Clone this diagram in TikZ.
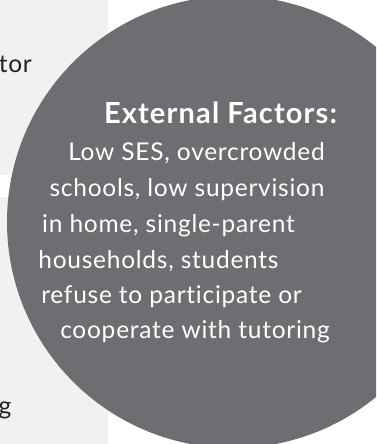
\documentclass[tikz,border=0pt]{standalone}
\usepackage{fontspec}
\setmainfont{Lato}[Ligatures=NoCommon]
\newfontfamily\factorfont{Lato}[LetterSpace=3, Ligatures=NoCommon]
\newfontfamily\headfont{Lato}[LetterSpace=4, Ligatures=NoCommon]
\definecolor{circgray}{HTML}{6D6E71}
\definecolor{panelgray}{HTML}{F1F1F2}
\definecolor{inkdark}{HTML}{231F20}
\tikzstyle{panel} = [fill=panelgray, draw=none]
\tikzstyle{cut} = [anchor=base east, inner sep=0pt, text=inkdark, font=\factorfont\fontsize{24.5}{29}\selectfont]
\tikzstyle{factor} = [anchor=base, inner sep=0pt, text=white, font=\factorfont\fontsize{24.5}{29}\selectfont]
\tikzstyle{heading} = [factor, font=\headfont\fontsize{29}{34}\selectfont\bfseries]
\tikzstyle{bubble} = [circle, fill=circgray, draw=none, minimum size=452pt, inner sep=0pt]

\begin{document}
\begin{tikzpicture}[x=1pt, y=-1pt]

\useasboundingbox (0,0) rectangle (376,444);
\clip (0,0) rectangle (376,444);

\fill [panel] (0,0) rectangle (108,175);

\fill [panel] (0,197) rectangle (108,444);

\node [cut] (tor) at (32,72) {tor};

\node [cut] (g) at (11.5,414) {g};

\node [bubble] (ext) at (233,222) {};

\node [heading] (head) at (220.5,123) {External Factors:};

\node [factor] (ses) at (196.5,160) {Low SES, overcrowded};

\node [factor] (sch) at (187,196) {schools, low supervision};

\node [factor] (hom) at (168.5,232) {in home, single-parent};

\node [factor] (hh) at (158.5,268) {households, students};

\node [factor] (ref) at (171.5,303) {refuse to participate or};

\node [factor] (coop) at (195,338) {cooperate with tutoring};

\end{tikzpicture}
\end{document}
